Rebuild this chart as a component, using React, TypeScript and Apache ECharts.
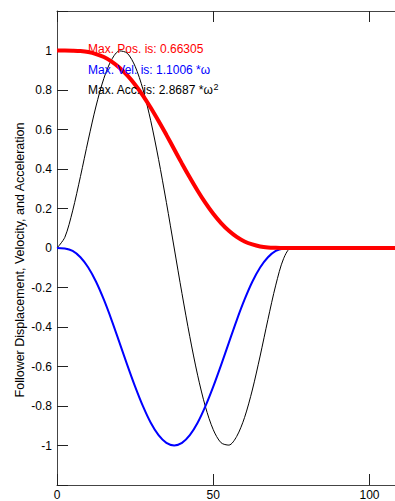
import React, { useEffect, useRef } from "react";
import * as echarts from "echarts";

// Cam angle (x axis)
const xValues = [
  0, 2.5, 5, 7.5, 10, 12.5, 15, 17.5, 20, 22.5, 25, 27.5, 30, 32.5, 35, 37.5,
  40, 42.5, 45, 47.5, 50, 52.5, 55, 57.5, 60, 62.5, 65, 67.5, 70, 72.5, 75,
  80, 90, 100, 110, 120,
];

// Follower displacement (red)
const displacement = [
  1, 1, 0.999, 0.997, 0.992, 0.982, 0.967, 0.944, 0.913, 0.874, 0.827, 0.772,
  0.71, 0.643, 0.573, 0.5, 0.427, 0.357, 0.29, 0.228, 0.173, 0.126, 0.087,
  0.056, 0.033, 0.018, 0.008, 0.003, 0.001, 0, 0,
  0, 0, 0, 0, 0,
];

// Follower velocity (blue)
const velocity = [
  0, -0.002, -0.015, -0.047, -0.099, -0.171, -0.262, -0.366, -0.479, -0.593,
  -0.702, -0.801, -0.885, -0.948, -0.987, -1, -0.987, -0.948, -0.885, -0.801,
  -0.702, -0.593, -0.479, -0.366, -0.262, -0.171, -0.099, -0.047, -0.015,
  -0.002, 0,
  0, 0, 0, 0, 0,
];

// Follower acceleration (black)
const acceleration = [
  0, 0.054, 0.188, 0.362, 0.547, 0.719, 0.859, 0.954, 0.998, 0.986, 0.92,
  0.804, 0.644, 0.449, 0.231, 0, -0.231, -0.449, -0.644, -0.804, -0.92,
  -0.986, -0.998, -0.954, -0.859, -0.719, -0.547, -0.362, -0.188, -0.054, 0,
  0, 0, 0, 0, 0,
];

const xTicks = { min: 0, max: 120, interval: 50 };
const yTicks = { min: -1.2, max: 1.2, interval: 0.2 };
const yTitle = "Follower Displacement, Velocity, and Acceleration";

const FONT = "Arial, 'Liberation Sans', Helvetica, sans-serif";

export default function App() {
  const ref = useRef<HTMLDivElement>(null);

  useEffect(() => {
    if (!ref.current) return;
    const chart = echarts.init(ref.current, undefined, { renderer: "svg" });
    const pairs = (ys: number[]) => xValues.map((x, i) => [x, ys[i]]);
    const axisLine = { show: true, onZero: false, lineStyle: { color: "#444", width: 1 } };
    const tick = { show: true, inside: true, length: 11, lineStyle: { color: "#222", width: 1 } };
    const yFmt = (v: number) => {
      if (Math.abs(v) > 1.05) return "";
      const r = Math.round(v * 10) / 10;
      return r === 0 ? "0" : String(r);
    };

    chart.setOption({
      animation: false,
      backgroundColor: "#fff",
      grid: { left: 57, top: 11, width: 375, height: 476, containLabel: false },
      xAxis: [
        {
          type: "value",
          position: "bottom",
          min: xTicks.min,
          max: xTicks.max,
          interval: xTicks.interval,
          axisLine,
          axisTick: tick,
          splitLine: { show: false },
          axisLabel: {
            color: "#000",
            fontSize: 12,
            fontFamily: FONT,
            margin: 4,
            showMaxLabel: false,
          },
        },
        {
          type: "value",
          position: "top",
          min: xTicks.min,
          max: xTicks.max,
          interval: xTicks.interval,
          axisLine,
          axisTick: tick,
          splitLine: { show: false },
          axisLabel: { show: false },
        },
      ],
      yAxis: [
        {
          type: "value",
          position: "left",
          min: yTicks.min,
          max: yTicks.max,
          interval: yTicks.interval,
          axisLine,
          axisTick: tick,
          splitLine: { show: false },
          axisLabel: {
            color: "#000",
            fontSize: 12,
            fontFamily: FONT,
            margin: 5,
            formatter: yFmt,
          },
        },
        {
          type: "value",
          position: "right",
          min: yTicks.min,
          max: yTicks.max,
          interval: yTicks.interval,
          axisLine,
          axisTick: tick,
          splitLine: { show: false },
          axisLabel: { show: false },
        },
      ],
      series: [
        {
          name: "Acceleration",
          type: "line",
          data: pairs(acceleration),
          smooth: 0.3,
          symbol: "none",
          lineStyle: { color: "#000", width: 1 },
          z: 2,
        },
        {
          name: "Velocity",
          type: "line",
          data: pairs(velocity),
          smooth: 0.3,
          symbol: "none",
          lineStyle: { color: "#0000ff", width: 2 },
          z: 3,
        },
        {
          name: "Displacement",
          type: "line",
          data: pairs(displacement),
          smooth: 0.3,
          symbol: "none",
          lineStyle: { color: "#ff0000", width: 4 },
          z: 4,
        },
      ],
      graphic: [
        {
          type: "text",
          x: 20,
          y: 260,
          rotation: Math.PI / 2,
          z: 10,
          style: {
            text: yTitle,
            fill: "#000",
            font: `12.5px ${FONT}`,
            align: "center",
            verticalAlign: "middle",
          },
        },
        {
          type: "text",
          left: 88,
          top: 43,
          z: 10,
          style: { text: "Max. Pos. is: 0.66305", fill: "#ff0000", font: `12px ${FONT}` },
        },
        {
          type: "text",
          left: 88,
          top: 64,
          z: 10,
          style: { text: "Max. Vel. is: 1.1006 *ω", fill: "#0000ff", font: `12px ${FONT}` },
        },
        {
          type: "text",
          left: 88,
          top: 82,
          z: 10,
          style: {
            text: "{a|Max. Acc. is: 2.8687 *ω}{s|2}",
            rich: {
              a: { fill: "#000", fontSize: 12, fontFamily: FONT, verticalAlign: "bottom" },
              s: { fill: "#000", fontSize: 9, fontFamily: FONT, verticalAlign: "bottom", padding: [0, 0, 5, 0] },
            },
          },
        },
      ],
    });

    return () => chart.dispose();
  }, []);

  return (
    <div
      ref={ref}
      style={{ position: "fixed", left: 0, top: 0, width: 440, height: 501, background: "#fff" }}
    />
  );
}
